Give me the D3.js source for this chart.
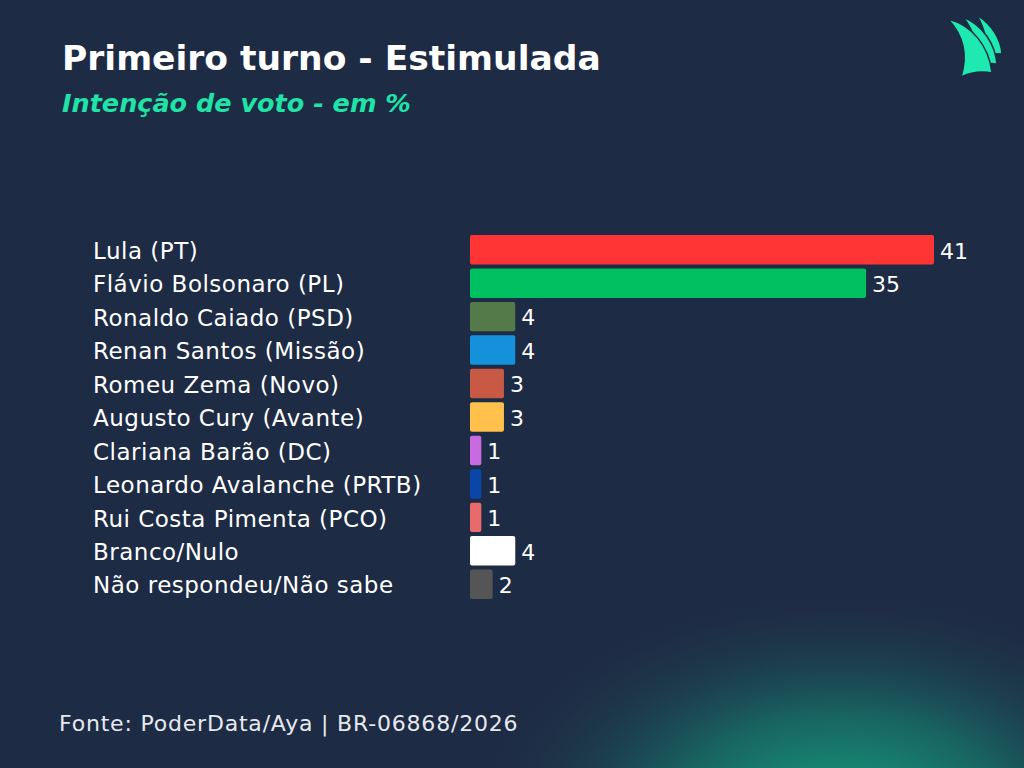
<!DOCTYPE html>
<html>
<head>
<meta charset="utf-8">
<script src="https://cdn.jsdelivr.net/npm/d3@7"></script>
<style>
  html, body { margin: 0; padding: 0; background: #1e2b44; }
  svg { display: block; }
</style>
</head>
<body>
<svg width="1024" height="768"></svg>
<script>
const width = 1024;
const height = 768;

const categories = [
    'Lula (PT)',
    'Flávio Bolsonaro (PL)',
    'Ronaldo Caiado (PSD)',
    'Renan Santos (Missão)',
    'Romeu Zema (Novo)',
    'Augusto Cury (Avante)',
    'Clariana Barão (DC)',
    'Leonardo Avalanche (PRTB)',
    'Rui Costa Pimenta (PCO)',
    'Branco/Nulo',
    'Não respondeu/Não sabe'
];
const values = [41, 35, 4, 4, 3, 3, 1, 1, 1, 4, 2];
const barColors = [
    '#ff3434', '#00c062', '#557a4a', '#1591dc', '#c85a45', '#ffc04c',
    '#c86be0', '#0a45a8', '#e86a6a', '#ffffff', '#555555'
];

const data = categories.map((c, i) => ({ name: c, value: values[i], color: barColors[i] }));

const font = "'DejaVu Sans', 'Open Sans', sans-serif";
const svg = d3.select('svg');

// ----------------------------------------------------------
//                      background + glow
// ----------------------------------------------------------
const defs = svg.append('defs');
const glow = defs.append('radialGradient')
    .attr('id', 'glow')
    .attr('gradientUnits', 'userSpaceOnUse')
    .attr('cx', 840).attr('cy', 820).attr('r', 380)
    .attr('gradientTransform', 'translate(840,820) scale(1,0.62) translate(-840,-820)');
glow.append('stop').attr('offset', '0%').attr('stop-color', '#14b283').attr('stop-opacity', 0.95);
glow.append('stop').attr('offset', '45%').attr('stop-color', '#14927a').attr('stop-opacity', 0.55);
glow.append('stop').attr('offset', '100%').attr('stop-color', '#1e2b44').attr('stop-opacity', 0);

svg.append('rect').attr('width', width).attr('height', height).attr('fill', '#1e2b44');
svg.append('rect').attr('width', width).attr('height', height).attr('fill', 'url(#glow)');

// ----------------------------------------------------------
//                      titles
// ----------------------------------------------------------
svg.append('text')
    .attr('x', 62).attr('y', 70)
    .attr('fill', '#ffffff')
    .style('font-family', font)
    .style('font-weight', 700)
    .style('font-size', '34.5px')
    .text('Primeiro turno - Estimulada');

svg.append('text')
    .attr('x', 62).attr('y', 112)
    .attr('fill', '#20e3a8')
    .style('font-family', font)
    .style('font-weight', 700)
    .style('font-style', 'italic')
    .style('font-size', '25.5px')
    .text('Intenção de voto - em %');

svg.append('text')
    .attr('x', 59).attr('y', 731)
    .attr('fill', '#e6e9ee')
    .style('font-family', font)
    .style('font-size', '22px')
    .style('letter-spacing', '0.8px')
    .text('Fonte: PoderData/Aya | BR-06868/2026');

// logo
const logo = svg.append('g').attr('fill', '#1de9b0').attr('stroke', '#1e2b44').attr('stroke-width', 1.5);
logo.append('path').attr('d', 'M977,15 C993,25 1001,40 1002,54 Q995,53 986,57 C988,40 984,28 977,15 Z');
logo.append('path').attr('d', 'M963,17 C983,25 995,44 997,64 Q987,62 976,67 C979,48 975,32 963,17 Z');
logo.append('path').attr('d', 'M948,19 C972,25 989,46 992,73 Q976,70 961,77 C968,55 964,36 948,19 Z');

// ----------------------------------------------------------
//                      scales
// ----------------------------------------------------------
const xScale = d3.scaleLinear()
    .domain([0, 41])
    .range([470, 934]);

const yScale = d3.scaleBand()
    .domain(categories)
    .range([233, 601])
    .paddingInner(0.12)
    .paddingOuter(0.06);

// ----------------------------------------------------------
//                      now the bars...
// ----------------------------------------------------------
const rows = svg.append('g').selectAll('g')
    .data(data)
    .enter().append('g');

rows.append('rect')
    .attr('x', xScale(0))
    .attr('y', (d) => yScale(d.name))
    .attr('width', (d) => xScale(d.value) - xScale(0))
    .attr('height', yScale.bandwidth())
    .attr('rx', 2)
    .attr('fill', (d) => d.color);

rows.append('text')
    .attr('x', (d) => xScale(d.value) + 6)
    .attr('y', (d) => yScale(d.name) + yScale.bandwidth() / 2)
    .attr('dy', '0.4em')
    .attr('fill', '#ffffff')
    .style('font-family', font)
    .style('font-size', '22px')
    .text((d) => d.value);

rows.append('text')
    .attr('x', 93)
    .attr('y', (d) => yScale(d.name) + yScale.bandwidth() / 2)
    .attr('dy', '0.4em')
    .attr('fill', '#ffffff')
    .style('font-family', font)
    .style('font-size', '23px')
    .style('letter-spacing', '0.5px')
    .text((d) => d.name);
</script>
</body>
</html>
